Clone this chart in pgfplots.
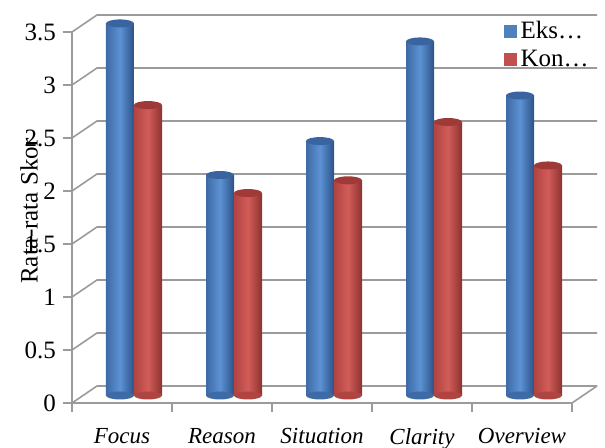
\documentclass[border=0pt]{standalone}
\usepackage{fontspec}
\setmainfont{Liberation Serif}
\usepackage{pgfplots}
\pgfplotsset{compat=1.18}
\definecolor{gridc}{RGB}{155,155,155}
\definecolor{eksA}{RGB}{62,106,165}
\definecolor{eksM}{RGB}{92,146,212}
\definecolor{eksB}{RGB}{44,82,135}
\definecolor{eksT}{RGB}{58,100,160}
\definecolor{eks}{RGB}{79,129,189}
\definecolor{konA}{RGB}{175,68,65}
\definecolor{konM}{RGB}{210,92,88}
\definecolor{konB}{RGB}{140,50,48}
\definecolor{konT}{RGB}{160,58,56}
\definecolor{kon}{RGB}{192,80,77}
\pgfdeclareplotmark{cylell}{\pgfpathellipse{\pgfpointorigin}{\pgfqpoint{7pt}{0pt}}{\pgfqpoint{0pt}{2pt}}\pgfusepathqfill}
% #1 category index, #2 value, #3 colour prefix, #4 bar shift, #5 ellipse shift
\newcommand\cyl[5]{%
  \addplot[forget plot, only marks, mark=cylell, mark options={fill=#3A}, xshift=#5, yshift=3.75pt] coordinates {(#1,0)};
  \addplot[forget plot, ybar, bar width=14pt, bar shift=#4, draw=none, xshift=6pt, yshift=3.75pt,
    left color=#3A, right color=#3B, middle color=#3M] coordinates {(#1,#2)};
  \addplot[forget plot, only marks, mark=cylell, mark options={fill=#3T}, xshift=#5, yshift=3.75pt] coordinates {(#1,#2)};
}
\begin{document}
\begin{tikzpicture}
\begin{axis}[
  width=250pt, height=185.5pt, scale only axis,
  xmin=-0.5, xmax=4.5, ymin=0, ymax=3.5,
  clip=false,
  axis x line*=bottom, axis y line*=left,
  axis line style={draw=gridc, line width=0.8pt, -},
  xtick={-0.5,0.5,...,4.5}, xticklabels={},
  extra x ticks={0,1,2,3,4},
  extra x tick labels={Focus,Reason,Situation,Clarity,Overview},
  extra x tick style={major tick length=0pt, tick label style={font=\fontsize{11.5}{13}\selectfont\itshape, yshift=-9pt}},
  ytick={0,0.5,...,3.5},
  tick align=outside, major tick length=4.5pt,
  tick style={draw=gridc, line width=0.8pt},
  yticklabel style={font=\fontsize{12.5}{14}\selectfont},
  /pgf/number format/assume math mode=true,
  ylabel={Rata-rata Skor},
  ylabel style={at={(rel axis cs:-0.086,0.517)}, anchor=center, font=\fontsize{12.5}{14}\selectfont},
  legend style={at={(rel axis cs:1.046,1.046)}, anchor=north east, draw=none, fill=none,
    font=\fontsize{12.5}{14}\selectfont, row sep=0pt, inner sep=1pt},
  legend cell align=left,
]
% back wall, side wall and floor
\pgfplotsinvokeforeach{0,0.5,1,1.5,2,2.5,3,3.5}{
  \draw[gridc, line width=0.8pt] (axis cs:-0.5,#1) -- ([shift={(12.5pt,8.5pt)}]axis cs:-0.5,#1) -- ([shift={(12.5pt,8.5pt)}]axis cs:4.5,#1);
}
\draw[gridc, line width=0.8pt] (axis cs:4.5,0) -- ([shift={(12.5pt,8.5pt)}]axis cs:4.5,0);
% cylinders: Eksperimen and Kontrol
\cyl{0}{3.51}{eks}{-7pt}{-1pt}
\cyl{0}{2.74}{kon}{7pt}{13pt}
\cyl{1}{2.08}{eks}{-7pt}{-1pt}
\cyl{1}{1.91}{kon}{7pt}{13pt}
\cyl{2}{2.40}{eks}{-7pt}{-1pt}
\cyl{2}{2.03}{kon}{7pt}{13pt}
\cyl{3}{3.34}{eks}{-7pt}{-1pt}
\cyl{3}{2.58}{kon}{7pt}{13pt}
\cyl{4}{2.83}{eks}{-7pt}{-1pt}
\cyl{4}{2.17}{kon}{7pt}{13pt}
\addlegendimage{legend image code/.code={\fill[eks] (0pt,-3pt) rectangle (6pt,3pt);}}
\addlegendentry{Eks…}
\addlegendimage{legend image code/.code={\fill[kon] (0pt,-3pt) rectangle (6pt,3pt);}}
\addlegendentry{Kon…}
\end{axis}
\pgfresetboundingbox
\path ([shift={(-36pt,-22.5pt)}]current axis.south west) rectangle ([shift={(16.5pt,16pt)}]current axis.north east);
\end{tikzpicture}
\end{document}
